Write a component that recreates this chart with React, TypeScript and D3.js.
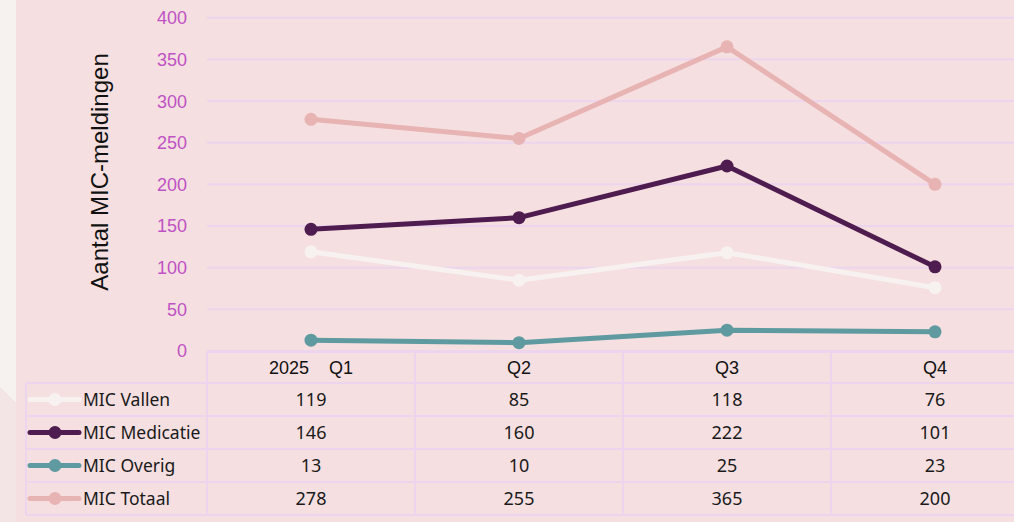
import React from "react";
import * as d3 from "d3";

const quarters = ["Q1", "Q2", "Q3", "Q4"];
const headerLabels = ["2025\u00A0\u00A0\u00A0\u00A0Q1", "Q2", "Q3", "Q4"];
const yTicks = [0, 50, 100, 150, 200, 250, 300, 350, 400];

const seriesNames = ["MIC Vallen", "MIC Medicatie", "MIC Overig", "MIC Totaal"];
const vallen = [119, 85, 118, 76];
const medicatie = [146, 160, 222, 101];
const overig = [13, 10, 25, 23];
const totaal = [278, 255, 365, 200];
const seriesColors = ["#F7F2F0", "#4E1C4F", "#5E9AA0", "#E8B3B3"];

const series = [vallen, medicatie, overig, totaal].map((values, i) => ({
  name: seriesNames[i],
  values,
  color: seriesColors[i],
}));

const W = 1014;
const H = 522;
const BG = "#F5DFE0";
const GRID = "#EDD5EE";

export default function App() {
  const x = d3.scaleBand<string>().domain(quarters).range([207, 1039]).padding(0);
  const y = d3.scaleLinear().domain([0, 400]).range([351, 17.7]);
  const cx = (q: string) => (x(q) as number) + x.bandwidth() / 2;

  const line = d3
    .line<number>()
    .x((_, i) => cx(quarters[i]))
    .y((d) => y(d));

  const headerTop = 352;
  const rowTop = 383;
  const rowH = 33;
  const tableLeft = 26;
  const colLeft = 207;
  const rowY = (i: number) => rowTop + rowH * i;
  const tableBottom = rowY(series.length);

  const drawOrder = [3, 0, 1, 2];

  return (
    <div style={{ position: "fixed", left: 0, top: 0, width: W, height: H }}>
      <svg width={W} height={H} style={{ display: "block" }}>
        <rect x={0} y={0} width={W} height={H} fill={BG} />
        <polygon points={`0,0 16,0 16,403 0,387`} fill="#F6F2F0" />
        <polygon points={`0,387 16,403 16,${H} 0,${H}`} fill="#F3E5E5" />

        {yTicks.map((t) => (
          <line key={t} x1={colLeft} x2={W} y1={y(t)} y2={y(t)} stroke={GRID} strokeWidth={2} />
        ))}

        {yTicks.map((t) => (
          <text
            key={"l" + t}
            x={187}
            y={y(t)}
            dy="0.36em"
            textAnchor="end"
            fontFamily="'Liberation Sans', Arial, sans-serif"
            fontSize={18}
            fill="#BF52C4"
          >
            {t}
          </text>
        ))}

        <text
          transform={`translate(108,172) rotate(-90)`}
          textAnchor="middle"
          fontFamily="'Liberation Sans', Arial, sans-serif"
          fontSize={24}
          fill="#111"
        >
          Aantal MIC-meldingen
        </text>

        {drawOrder.map((si) => {
          const s = series[si];
          return (
            <g key={s.name}>
              <path d={line(s.values) || ""} fill="none" stroke={s.color} strokeWidth={5} strokeLinejoin="round" />
              {s.values.map((v, i) => (
                <circle key={i} cx={cx(quarters[i])} cy={y(v)} r={6.5} fill={s.color} />
              ))}
            </g>
          );
        })}

        <g stroke={GRID} strokeWidth={2} fill="none">
          <line x1={colLeft} x2={W} y1={headerTop} y2={headerTop} />
          <line x1={tableLeft} x2={W} y1={rowTop} y2={rowTop} />
          {series.map((_, i) => (
            <line key={i} x1={tableLeft} x2={W} y1={rowY(i + 1)} y2={rowY(i + 1)} />
          ))}
          <line x1={tableLeft} x2={tableLeft} y1={rowTop} y2={tableBottom} />
          {quarters.map((q) => (
            <line key={q} x1={x(q) as number} x2={x(q) as number} y1={headerTop} y2={tableBottom} />
          ))}
        </g>

        {quarters.map((q, i) => (
          <text
            key={"h" + q}
            x={cx(q)}
            y={(headerTop + rowTop) / 2}
            dy="0.36em"
            textAnchor="middle"
            fontFamily="'Liberation Sans', Arial, sans-serif"
            fontSize={18}
            fill="#111"
          >
            {headerLabels[i]}
          </text>
        ))}

        {series.map((s, si) => {
          const cy = rowY(si) + rowH / 2;
          return (
            <g key={"r" + s.name}>
              <line x1={30} x2={79} y1={cy} y2={cy} stroke={s.color} strokeWidth={5} strokeLinecap="round" />
              <circle cx={55} cy={cy} r={6.5} fill={s.color} />
              <text
                x={83}
                y={cy}
                dy="0.36em"
                fontFamily="'Noto Sans', sans-serif"
                fontSize={17.5}
                fill="#1a1a1a"
              >
                {s.name}
              </text>
              {s.values.map((v, i) => (
                <text
                  key={i}
                  x={cx(quarters[i])}
                  y={cy}
                  dy="0.36em"
                  textAnchor="middle"
                  fontFamily="'Noto Sans', sans-serif"
                  fontSize={18}
                  fill="#1a1a1a"
                >
                  {v}
                </text>
              ))}
            </g>
          );
        })}
      </svg>
    </div>
  );
}
